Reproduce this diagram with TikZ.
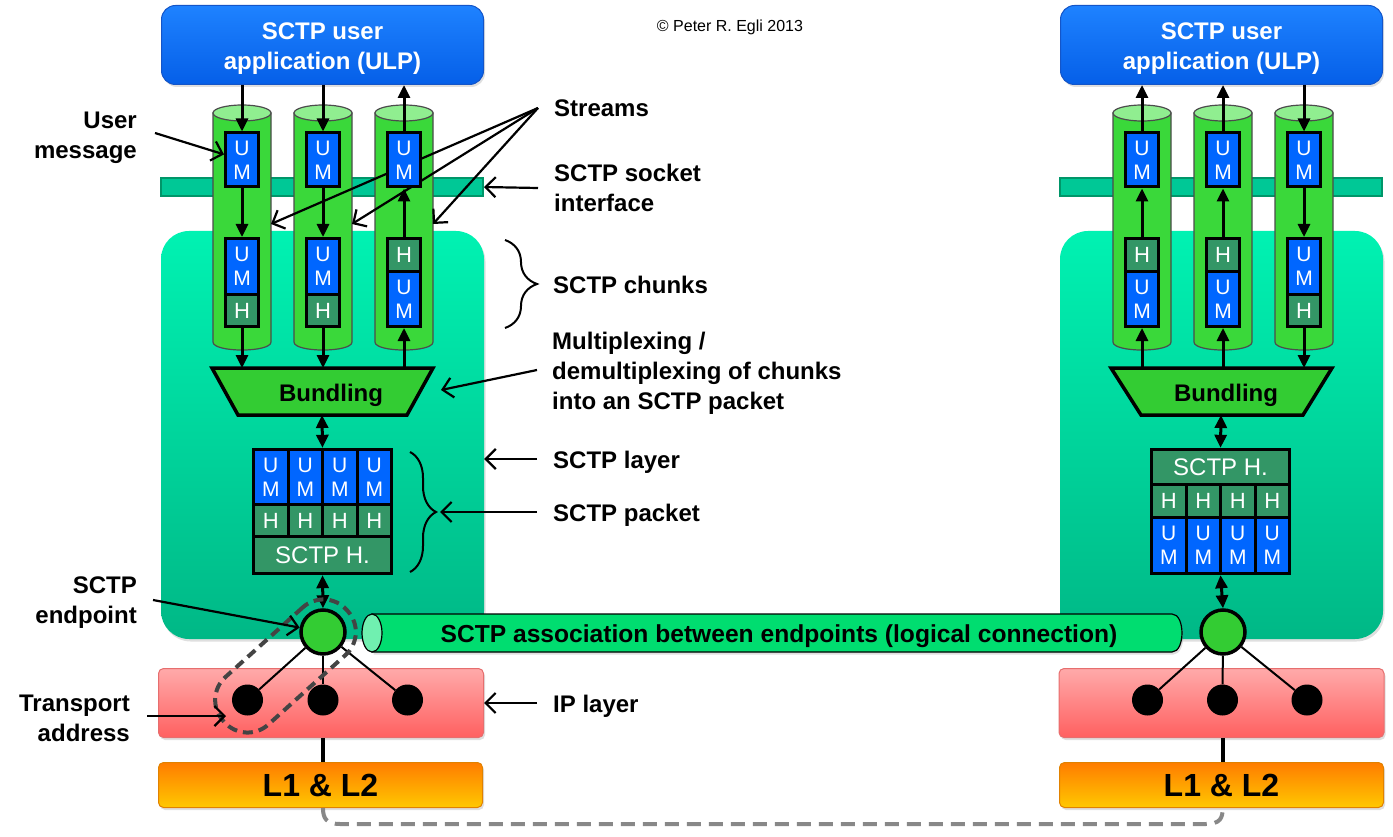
\documentclass[tikz,border=0pt]{standalone}
\usepackage{fontspec}
\setmainfont{Liberation Sans}
\usetikzlibrary{arrows.meta,decorations.pathreplacing,shadows}
\definecolor{ulpT}{RGB}{30,130,255}
\definecolor{ulpB}{RGB}{5,95,232}
\definecolor{ulpD}{RGB}{20,85,200}
\definecolor{layT}{RGB}{0,242,178}
\definecolor{layB}{RGB}{0,184,134}
\definecolor{sockF}{RGB}{0,200,150}
\definecolor{sockD}{RGB}{0,150,105}
\definecolor{cylF}{RGB}{58,216,58}
\definecolor{cylT}{RGB}{144,238,144}
\definecolor{umB}{RGB}{0,102,255}
\definecolor{hG}{RGB}{51,150,102}
\definecolor{bunF}{RGB}{51,204,51}
\definecolor{tubeF}{RGB}{0,221,112}
\definecolor{tubeE}{RGB}{112,240,176}
\definecolor{ipT}{RGB}{255,170,170}
\definecolor{ipB}{RGB}{255,96,96}
\definecolor{ipD}{RGB}{230,110,110}
\definecolor{llT}{RGB}{255,125,0}
\definecolor{llB}{RGB}{255,200,0}
\definecolor{llD}{RGB}{225,130,0}
\definecolor{tadr}{RGB}{68,68,68}
\definecolor{dashG}{RGB}{136,136,136}
\newcommand\mycyl[2]{%
  \path[fill=cylF, draw=black!70, line width=1.2pt] (#2-29,113) -- (#2-29,342) .. controls (#2-29,352.7) and (#2+29,352.7) .. (#2+29,342) -- (#2+29,113) -- cycle;
  \path[fill=cylT, draw=black!70, line width=1.2pt] (#2,113) ellipse [x radius=29, y radius=8];
  \coordinate (#1) at (#2+29,224);
}
\newcommand\chunkUH[2]{%
  \node[um, minimum height=56.5pt] (#1a) at (#2,266.75) {U\\M};
  \node[hb, minimum height=31.5pt] (#1b) at (#2,310.75) {H};
}
\newcommand\chunkHU[2]{%
  \node[hb, minimum height=33.5pt] (#1a) at (#2,255.25) {H};
  \node[um, minimum height=54.5pt] (#1b) at (#2,299.25) {U\\M};
}
\begin{document}
\begin{tikzpicture}[x=1pt,y=-1pt,
  lbl/.style={font=\bfseries\fontsize{24}{30}\selectfont, align=left, anchor=west, inner sep=0pt},
  lblr/.style={font=\bfseries\fontsize{24}{30}\selectfont, align=right, anchor=east, inner sep=0pt},
  shad/.style={drop shadow={opacity=.25, shadow xshift=1.5pt, shadow yshift=-2.5pt}},
  ulp/.style={shad, rounded corners=14pt, top color=ulpT, bottom color=ulpB, draw=ulpD, line width=1pt, minimum width=322pt, minimum height=79pt},
  ulpt/.style={text=white, font=\bfseries\fontsize{24}{30}\selectfont, align=center, inner sep=0pt},
  layer/.style={shad, rounded corners=28pt, top color=layT, bottom color=layB, minimum width=323pt, minimum height=408pt},
  sock/.style={fill=sockF, draw=sockD, line width=2pt, minimum width=322pt, minimum height=18pt},
  ip/.style={shad, rounded corners=5pt, top color=ipT, bottom color=ipB, draw=ipD, line width=1pt, minimum width=325pt, minimum height=69pt},
  ll/.style={shad, rounded corners=5pt, top color=llT, bottom color=llB, draw=llD, line width=1pt, minimum width=324pt, minimum height=45pt, font=\bfseries\fontsize{32}{32}\selectfont},
  um/.style={draw=black, line width=3pt, fill=umB, text=white, font=\fontsize{21}{24}\selectfont, minimum width=33pt, inner sep=0pt, align=center},
  hb/.style={draw=black, line width=3pt, fill=hG, text=white, font=\fontsize{22}{24}\selectfont, minimum width=33pt, inner sep=0pt},
  cell/.style={inner sep=0pt, text=white, align=center, font=\fontsize{21}{24}\selectfont},
  bund/.style={fill=bunF, draw=black, line width=3.5pt, line join=miter},
  flow/.style={line width=3pt, -{Triangle[length=13pt,width=12pt]}},
  flowb/.style={line width=3pt, {Triangle[length=13pt,width=12pt]}-{Triangle[length=13pt,width=12pt]}},
  pointer/.style={line width=2.2pt, -{Straight Barb[length=10pt,width=20pt]}},
  ep/.style={circle, fill=bunF, draw=black, line width=3.5pt, minimum size=44pt, inner sep=0pt},
  dot/.style={circle, fill=black, minimum size=31pt, inner sep=0pt},
  brc/.style={line width=2pt, decorate}
]
\useasboundingbox (0,0) rectangle (1393,837);

% ---------- background layers ----------
\node[layer] (layL) at (322.5,435) {};
\node[layer] (layR) at (1221.5,435) {};
\node[sock] (sockL) at (322,187) {};
\node[sock] (sockR) at (1220.5,187) {};
\node[ip] (ipL) at (321,703) {};
\node[ip] (ipR) at (1221.5,703) {};
\node[ll] (llL) at (320.5,785) {L1 \& L2};
\node[ll] (llR) at (1221.5,785) {L1 \& L2};
\node[ulp] (ulpL) at (322.5,45) {};
\node[ulp] (ulpR) at (1221.5,45) {};
\node[ulpt] (ulpLt) at (322.5,49) {SCTP user\\application (ULP)};
\node[ulpt] (ulpRt) at (1221.5,49) {SCTP user\\application (ULP)};
\node[font=\fontsize{16}{18}\selectfont] (copy) at (730,27) {© Peter R. Egli 2013};

% ---------- cylinders ----------
\mycyl{s1L}{242}
\mycyl{s2L}{323}
\mycyl{s3L}{404}
\mycyl{s1R}{1142}
\mycyl{s2R}{1223}
\mycyl{s3R}{1304}

% ---------- stream pointers (behind boxes) ----------
\node[lbl] (tStreams) at (554,108) {Streams};
\coordinate (sO) at (538,108);
\draw[pointer] (sO) -- (s1L);
\draw[pointer] (sO) -- (s2L);
\draw[pointer] (sO) -- (s3L);

% ---------- user messages and chunks ----------
\node[um, minimum height=54pt] (m1L) at (242,160) {U\\M};
\node[um, minimum height=54pt] (m2L) at (323,160) {U\\M};
\node[um, minimum height=54pt] (m3L) at (404,160) {U\\M};
\node[um, minimum height=54pt] (m1R) at (1142,160) {U\\M};
\node[um, minimum height=54pt] (m2R) at (1223,160) {U\\M};
\node[um, minimum height=54pt] (m3R) at (1304,160) {U\\M};
\chunkUH{c1L}{242}
\chunkUH{c2L}{323}
\chunkHU{c3L}{404}
\chunkHU{c1R}{1142}
\chunkHU{c2R}{1223}
\chunkUH{c3R}{1304}

% ---------- bundling ----------
\path[bund] (212,368) -- (433,368) -- (407,415) -- (238,415) -- cycle;
\node[font=\bfseries\fontsize{24}{28}\selectfont] (bunL) at (331,395) {Bundling};
\coordinate (bunLtop) at (322,368);
\coordinate (bunLbot) at (322,415);
\path[bund] (1111,368) -- (1332,368) -- (1303,415) -- (1141,415) -- cycle;
\node[font=\bfseries\fontsize{24}{28}\selectfont] (bunR) at (1226,395) {Bundling};
\coordinate (bunRtop) at (1221,368);
\coordinate (bunRbot) at (1221,415);

% ---------- flow arrows left ----------
\draw[flow] (ulpL.south -| m1L.north) -- (m1L.north);
\draw[flow] (m1L.south) -- (c1La.north);
\draw[flow] (c1Lb.south) -- (c1Lb.south |- bunLtop);
\draw[flow] (ulpL.south -| m2L.north) -- (m2L.north);
\draw[flow] (m2L.south) -- (c2La.north);
\draw[flow] (c2Lb.south) -- (c2Lb.south |- bunLtop);
\draw[flow] (c3Lb.south |- bunLtop) -- (c3Lb.south);
\draw[flow] (c3La.north) -- (m3L.south);
\draw[flow] (m3L.north) -- (m3L.north |- ulpL.south);
% ---------- flow arrows right ----------
\draw[flow] (m1R.north) -- (m1R.north |- ulpR.south);
\draw[flow] (c1Ra.north) -- (m1R.south);
\draw[flow] (c1Rb.south |- bunRtop) -- (c1Rb.south);
\draw[flow] (m2R.north) -- (m2R.north |- ulpR.south);
\draw[flow] (c2Ra.north) -- (m2R.south);
\draw[flow] (c2Rb.south |- bunRtop) -- (c2Rb.south);
\draw[flow] (ulpR.south -| m3R.north) -- (m3R.north);
\draw[flow] (m3R.south) -- (c3Ra.north);
\draw[flow] (c3Rb.south) -- (c3Rb.south |- bunRtop);

% ---------- packets ----------
\node[fill=black, minimum width=141pt, minimum height=127pt, inner sep=0pt] (pkL) at (322.5,511.5) {};
\foreach \cx [count=\i] in {270.75,305.25,339.75,374.25}{
  \node[cell, fill=umB, minimum width=31.5pt, minimum height=52pt] (pkLu\i) at (\cx,477) {U\\M};
  \node[cell, fill=hG, minimum width=31.5pt, minimum height=29pt, font=\fontsize{22}{24}\selectfont] (pkLh\i) at (\cx,520.5) {H};
}
\node[cell, fill=hG, minimum width=135pt, minimum height=34pt, font=\fontsize{24}{26}\selectfont] (pkLs) at (322.5,555) {SCTP H.};

\node[fill=black, minimum width=141pt, minimum height=127pt, inner sep=0pt] (pkR) at (1220.5,511.5) {};
\node[cell, fill=hG, minimum width=135pt, minimum height=32pt, font=\fontsize{24}{26}\selectfont] (pkRs) at (1220.5,467) {SCTP H.};
\foreach \cx [count=\i] in {1168.75,1203.25,1237.75,1272.25}{
  \node[cell, fill=hG, minimum width=31.5pt, minimum height=30pt, font=\fontsize{22}{24}\selectfont] (pkRh\i) at (\cx,501) {H};
  \node[cell, fill=umB, minimum width=31.5pt, minimum height=53pt] (pkRu\i) at (\cx,545.5) {U\\M};
}

% ---------- endpoints, IP addresses ----------
\node[ep] (epL) at (323,632) {};
\node[ep] (epR) at (1223,632) {};
\node[dot] (d1L) at (247.5,700) {};
\node[dot] (d2L) at (323,700) {};
\node[dot] (d3L) at (407.5,700) {};
\node[dot] (d1R) at (1147.5,700) {};
\node[dot] (d2R) at (1222.5,700) {};
\node[dot] (d3R) at (1307,700) {};
\foreach \d in {d1L,d2L,d3L}{\draw[line width=2pt] (epL) -- (\d);}
\foreach \d in {d1R,d2R,d3R}{\draw[line width=2pt] (epR) -- (\d);}

\draw[flowb] (bunLbot) -- (pkL.north);
\draw[flowb] (bunRbot) -- (pkR.north);
\draw[flowb] (pkL.south) -- (epL.north);
\draw[flowb] (pkR.south) -- (epR.north);

\draw[line width=4pt] (ipL.south -| d2L) -- (llL.north -| d2L);
\draw[line width=4pt] (ipR.south -| d2R) -- (llR.north -| d2R);
\draw[dashG, line width=4pt, dash pattern=on 14pt off 8pt] (llL.south -| d2L) .. controls (323,818) and (326,824) .. (340,824) -- (1206,824) .. controls (1220,824) and (1223,818) .. (llR.south -| d2R);

% ---------- association tube ----------
\path[shad, fill=tubeF, draw=black, line width=1.2pt] (372,614) -- (1172,614) .. controls (1185.3,614) and (1185.3,652) .. (1172,652) -- (372,652) -- cycle;
\path[fill=tubeE, draw=black, line width=1.2pt] (372,633) ellipse [x radius=10, y radius=19];
\node[font=\bfseries\fontsize{24.6}{28}\selectfont] (assoc) at (779,636) {SCTP association between endpoints (logical connection)};

% ---------- transport address outline ----------
\node[draw=tadr, line width=4pt, dash pattern=on 10pt off 6pt, rounded corners=31pt, minimum width=166pt, minimum height=64pt, rotate=42] (taddr) at (285.5,666) {};

% ---------- labels ----------
\node[lblr] (tUser) at (137,138) {User\\message};
\draw[pointer] (155,133) -- (m1L);
\node[lbl] (tSock) at (554,188) {SCTP socket\\interface};
\draw[pointer] (538,188) -- (sockL.east);
\node[lbl] (tChunks) at (553,285) {SCTP chunks};
\draw[brc, decoration={brace, amplitude=32pt}] (505,240) -- (505,328);
\node[lbl] (tMux) at (552,373.5) {Multiplexing /\\demultiplexing of chunks\\into an SCTP packet};
\coordinate (muxTip) at (441,390);
\draw[pointer] (537,370) -- (muxTip);
\node[lbl] (tLayer) at (553,462) {SCTP layer};
\draw[pointer] (537,459) -- (layL.east |- 0,459);
\node[lbl] (tPacket) at (553,515) {SCTP packet};
\draw[brc, decoration={brace, amplitude=26pt}] (410,452) -- (410,572);
\draw[pointer] (537,512) -- (440,512);
\node[lblr] (tEp) at (137,603) {SCTP\\endpoint};
\draw[pointer] (153,600) -- (epL);
\node[lblr] (tTr) at (130,718) {Transport\\address};
\coordinate (trTip) at (226,716);
\draw[pointer] (147,716) -- (trTip);
\node[lbl] (tIP) at (553,706) {IP layer};
\draw[pointer] (537,703) -- (ipL.east |- 0,703);
\end{tikzpicture}
\end{document}
